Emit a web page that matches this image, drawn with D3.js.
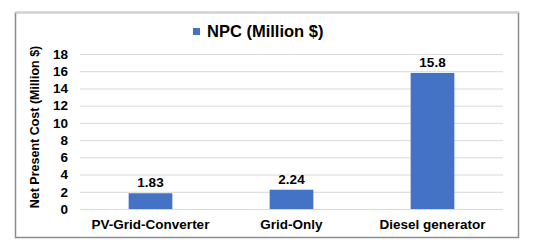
<!DOCTYPE html>
<html>
<head>
<meta charset="utf-8">
<script src="https://cdn.jsdelivr.net/npm/d3@7"></script>
<style>
  body { margin: 0; background: #fff; }
  text { font-family: Arial, "Liberation Sans", sans-serif; font-weight: bold; fill: #000; }
</style>
</head>
<body>
<div id="chart"></div>
<script>
const categories = ['PV-Grid-Converter', 'Grid-Only', 'Diesel generator'];
const npcValues = [1.83, 2.24, 15.8];
const valueLabels = ['1.83', '2.24', '15.8'];
const yTicks = [0, 2, 4, 6, 8, 10, 12, 14, 16, 18];
const seriesName = 'NPC (Million $)';
const yTitle = 'Net Present Cost (Million $)';

const width = 533, height = 252;
const plot = { left: 80, right: 503, top: 54, bottom: 209 };

const svg = d3.select('#chart').append('svg')
  .attr('width', width).attr('height', height);

// frame
svg.append('rect')
  .attr('x', 15.5).attr('y', 12.5).attr('width', 503).attr('height', 225)
  .attr('fill', '#fff').attr('stroke', '#8c8c8c').attr('stroke-width', 1.5);
svg.append('line')
  .attr('x1', 15).attr('x2', 519).attr('y1', 12.5).attr('y2', 12.5)
  .attr('stroke', '#cfcfcf').attr('stroke-width', 1.5);

const x = d3.scaleBand().domain(categories)
  .range([plot.left, plot.right]).paddingInner(0.69).paddingOuter(0.345);
const y = d3.scaleLinear().domain([0, 18]).range([plot.bottom, plot.top]);

// gridlines
svg.append('g').selectAll('line')
  .data(yTicks)
  .enter().append('line')
  .attr('x1', plot.left).attr('x2', plot.right)
  .attr('y1', d => y(d) + 0.5).attr('y2', d => y(d) + 0.5)
  .attr('stroke', '#d9d9d9').attr('stroke-width', 1);

// y tick labels
svg.append('g').selectAll('text')
  .data(yTicks)
  .enter().append('text')
  .attr('x', 68).attr('y', d => y(d))
  .attr('dy', '0.35em')
  .attr('text-anchor', 'end')
  .attr('font-size', '13.5px')
  .text(d => d);

// bars
const data = categories.map((c, i) => ({ cat: c, value: npcValues[i], label: valueLabels[i] }));
svg.append('g').selectAll('rect')
  .data(data)
  .enter().append('rect')
  .attr('x', d => x(d.cat))
  .attr('y', d => y(d.value))
  .attr('width', x.bandwidth())
  .attr('height', d => y(0) - y(d.value))
  .attr('fill', '#4472c4');

// value labels
svg.append('g').selectAll('text')
  .data(data)
  .enter().append('text')
  .attr('x', d => x(d.cat) + x.bandwidth() / 2)
  .attr('y', d => y(d.value) - 6)
  .attr('text-anchor', 'middle')
  .attr('font-size', '13.5px')
  .text(d => d.label);

// category labels
svg.append('g').selectAll('text')
  .data(categories)
  .enter().append('text')
  .attr('x', d => x(d) + x.bandwidth() / 2)
  .attr('y', 229)
  .attr('text-anchor', 'middle')
  .attr('font-size', '13.5px')
  .text(d => d);

// y axis title
svg.append('text')
  .attr('transform', 'translate(39,127) rotate(-90)')
  .attr('text-anchor', 'middle')
  .attr('font-size', '12.5px')
  .text(yTitle);

// legend
svg.append('rect')
  .attr('x', 193).attr('y', 28).attr('width', 7).attr('height', 7)
  .attr('fill', '#4472c4');
svg.append('text')
  .attr('x', 207).attr('y', 37)
  .attr('font-size', '16.5px')
  .text(seriesName);
</script>
</body>
</html>
